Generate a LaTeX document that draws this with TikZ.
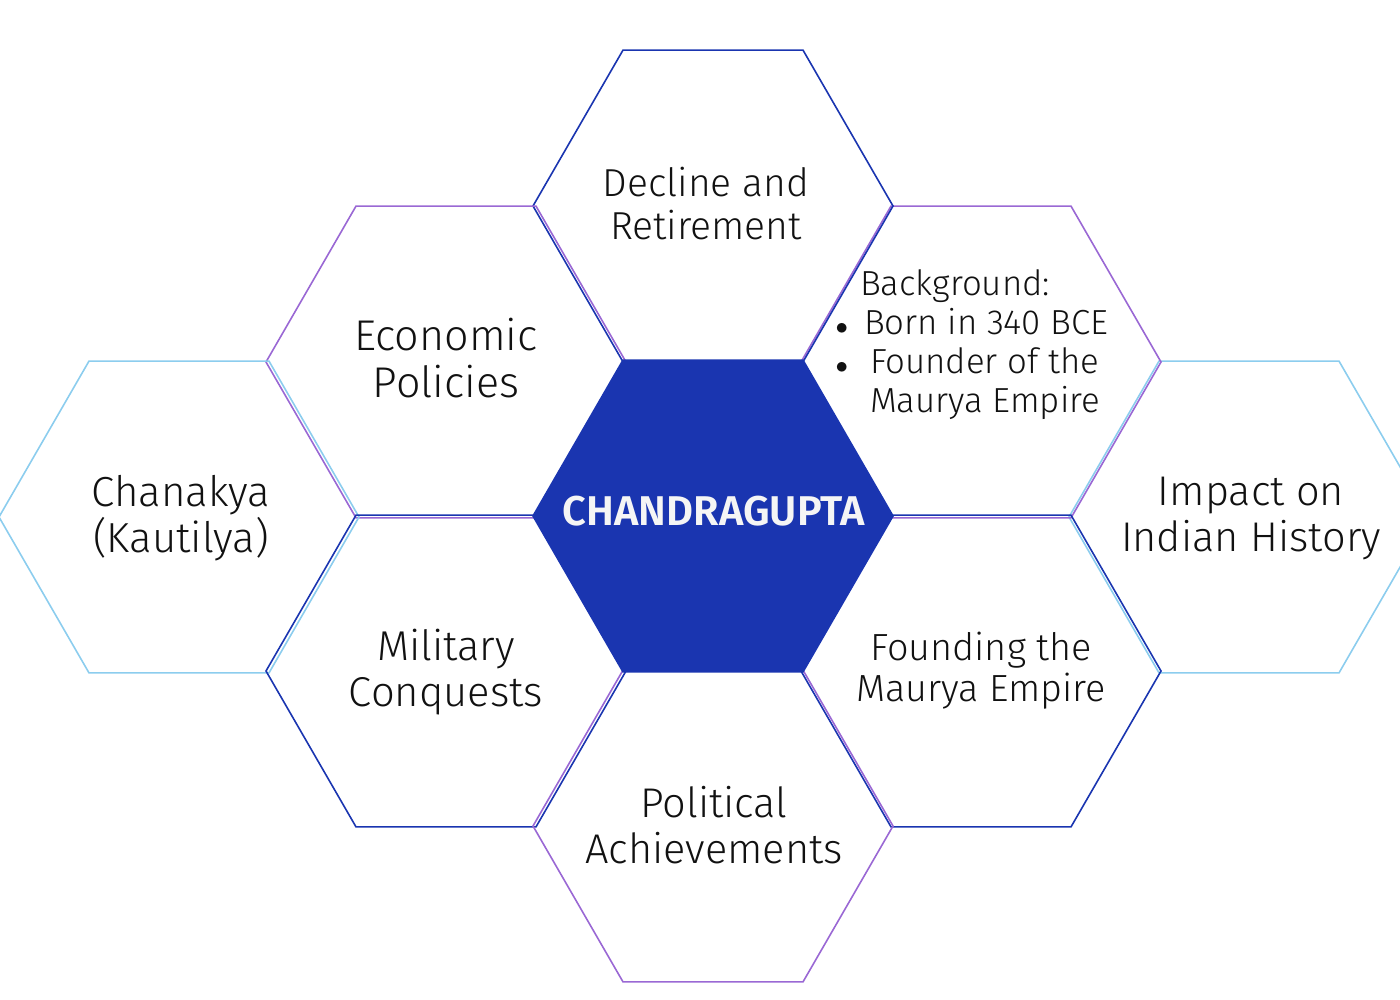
\documentclass[tikz,border=0pt]{standalone}
\usepackage{fontspec}
\setmainfont{Fira Sans Light}[BoldFont={Fira Sans SemiBold}]
\usetikzlibrary{shapes.geometric}

\definecolor{hexblue}{HTML}{1A35B0}
\definecolor{hexpurple}{HTML}{9A68D4}
\definecolor{hexsky}{HTML}{8CCDEE}
\definecolor{hextext}{HTML}{111111}

\tikzset{
  hexcell/.style={regular polygon, regular polygon sides=6, minimum size=360pt,
    inner sep=0pt, outer sep=0pt, draw=#1, line width=1.6pt},
  celltext/.style 2 args={align=center, text=hextext, font=\fontsize{#1}{#2}\selectfont},
}

\begin{document}
\begin{tikzpicture}[x=1pt,y=-1pt]
    \useasboundingbox (0,0) rectangle (1400,1000);
    \clip (0,0) rectangle (1400,1000);

    % Waben
    \foreach \px/\py/\col/\nm in {1249/517/hexsky/impact, 981/362/hexpurple/background,
        713/206/hexblue/decline, 446/362/hexpurple/economic, 179/517/hexsky/chanakya,
        446/671/hexblue/military, 981/671/hexblue/founding, 713/826/hexpurple/political} {
            \node[hexcell=\col] (\nm) at (\px,\py) {};
        }

    % Mitte
    \node[hexcell=hexblue, fill=hexblue] (chandra) at (713,516) {};
    \node[text=white!96!black, font=\fontsize{41.6}{48}\selectfont\bfseries] (chandralbl) at (714,511) {CHANDRAGUPTA};

    % Beschriftungen
    \node[celltext={39}{43}] (declinelbl) at (706,204) {Decline and\\Retirement};
    \node[celltext={43}{47}] (economiclbl) at (446,358) {Economic\\Policies};
    \node[celltext={42}{46}] (chanakyalbl) at (181,518) {Chanakya\\(Kautilya)};
    \node[celltext={41.5}{46}] (impactlbl) at (1251,519) {Impact on\\Indian History};
    \node[celltext={41.7}{46}] (militarylbl) at (446,672) {Military\\Conquests};
    \node[celltext={37.8}{41}] (foundinglbl) at (981,671) {Founding the\\Maurya Empire};
    \node[celltext={41.5}{46}] (politicallbl) at (714,825) {Political\\Achievements};
    \node[text=hextext, font=\fontsize{34.8}{39}\selectfont, inner sep=0pt] (backgroundlbl) at (972,346) {%
        \begin{tabular}{@{}c@{\hspace{16pt}}l@{}}
            & \hspace{-4pt}Background:\\
            $\bullet$ & Born in 340 BCE\\
            $\bullet$ & \hspace{6pt}Founder of the\\
            & \hspace{6pt}Maurya Empire
        \end{tabular}};
\end{tikzpicture}
\end{document}
